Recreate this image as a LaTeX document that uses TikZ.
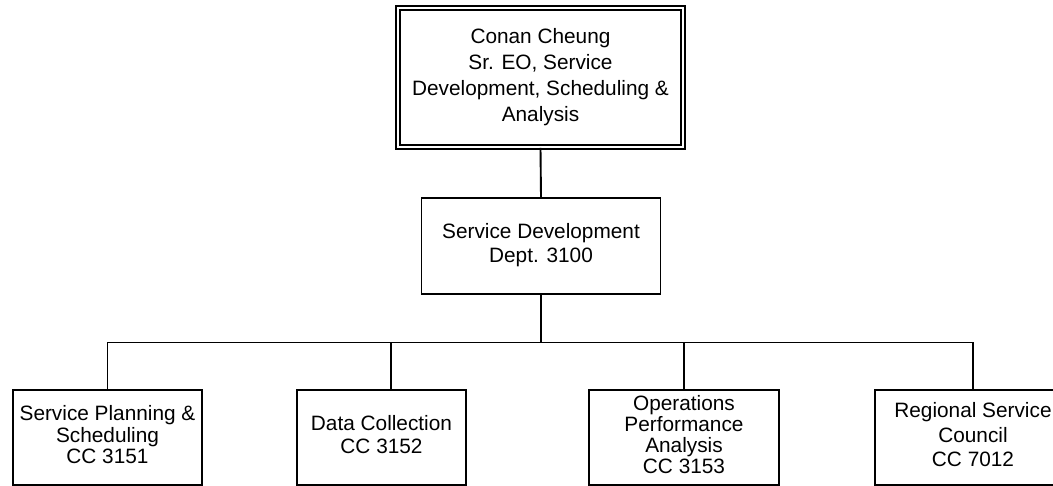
\documentclass[tikz,border=0pt]{standalone}
\usepackage{fontspec}
\setmainfont{Liberation Sans}
\newcommand{\boxtxt}[2]{\raisebox{#1}{\begin{tabular}{@{}c@{}}#2\end{tabular}}}
\begin{document}
\begin{tikzpicture}[x=1pt,y=1pt,
  box/.style={draw=black, line width=1.9pt, fill=white, inner sep=0pt, align=center, anchor=center},
  conn/.style={draw=black, line width=1.9pt},
  fs/.style={font={\fontsize{20.8}{#1}\selectfont}}
]
\useasboundingbox (0,0) rectangle (1053,-486);
% top box with double border
\node[box, double, double distance=2.2pt, line width=1.8pt, minimum width=285pt, minimum height=139pt, fs=26] (top) at (540.5,-77.5)
  {\boxtxt{-2.5pt}{Conan Cheung\\Sr. EO, Service\\Development, Scheduling \&\\Analysis}};
% middle box
\node[box, minimum width=239pt, minimum height=96pt, fs=24] (mid) at (541,-246)
  {\boxtxt{-3pt}{Service Development\\Dept. 3100}};
% bottom boxes
\node[box, minimum width=189pt, minimum height=95pt, fs=21] (b1) at (107.5,-437.5)
  {\boxtxt{2.5pt}{Service Planning \&\\Scheduling\\CC 3151}};
\node[box, minimum width=169pt, minimum height=95pt, fs=23.3] (b2) at (381.5,-437.5)
  {\boxtxt{-1pt}{Data Collection\\CC 3152}};
\node[box, minimum width=190pt, minimum height=95pt, fs=20.5] (b3) at (684,-437.5)
  {\boxtxt{2.5pt}{Operations\\Performance\\Analysis\\CC 3153}};
\node[box, minimum width=196pt, minimum height=95pt, fs=24.5] (b4) at (973,-437.5)
  {\boxtxt{5.5pt}{Regional Service\\Council\\CC 7012}};
% connectors
\coordinate (d2) at (391,-342.5);
\draw[conn] (top.south) -- (mid.north);
\draw[conn] (mid.south) -- (mid.south |- d2);
\draw[conn] (b1.north) |- (b4.north |- d2) -- (b4.north);
\draw[conn] (d2) -- (d2 |- b2.north);
\draw[conn] (b3.north) -- (b3.north |- d2);
\end{tikzpicture}
\end{document}
